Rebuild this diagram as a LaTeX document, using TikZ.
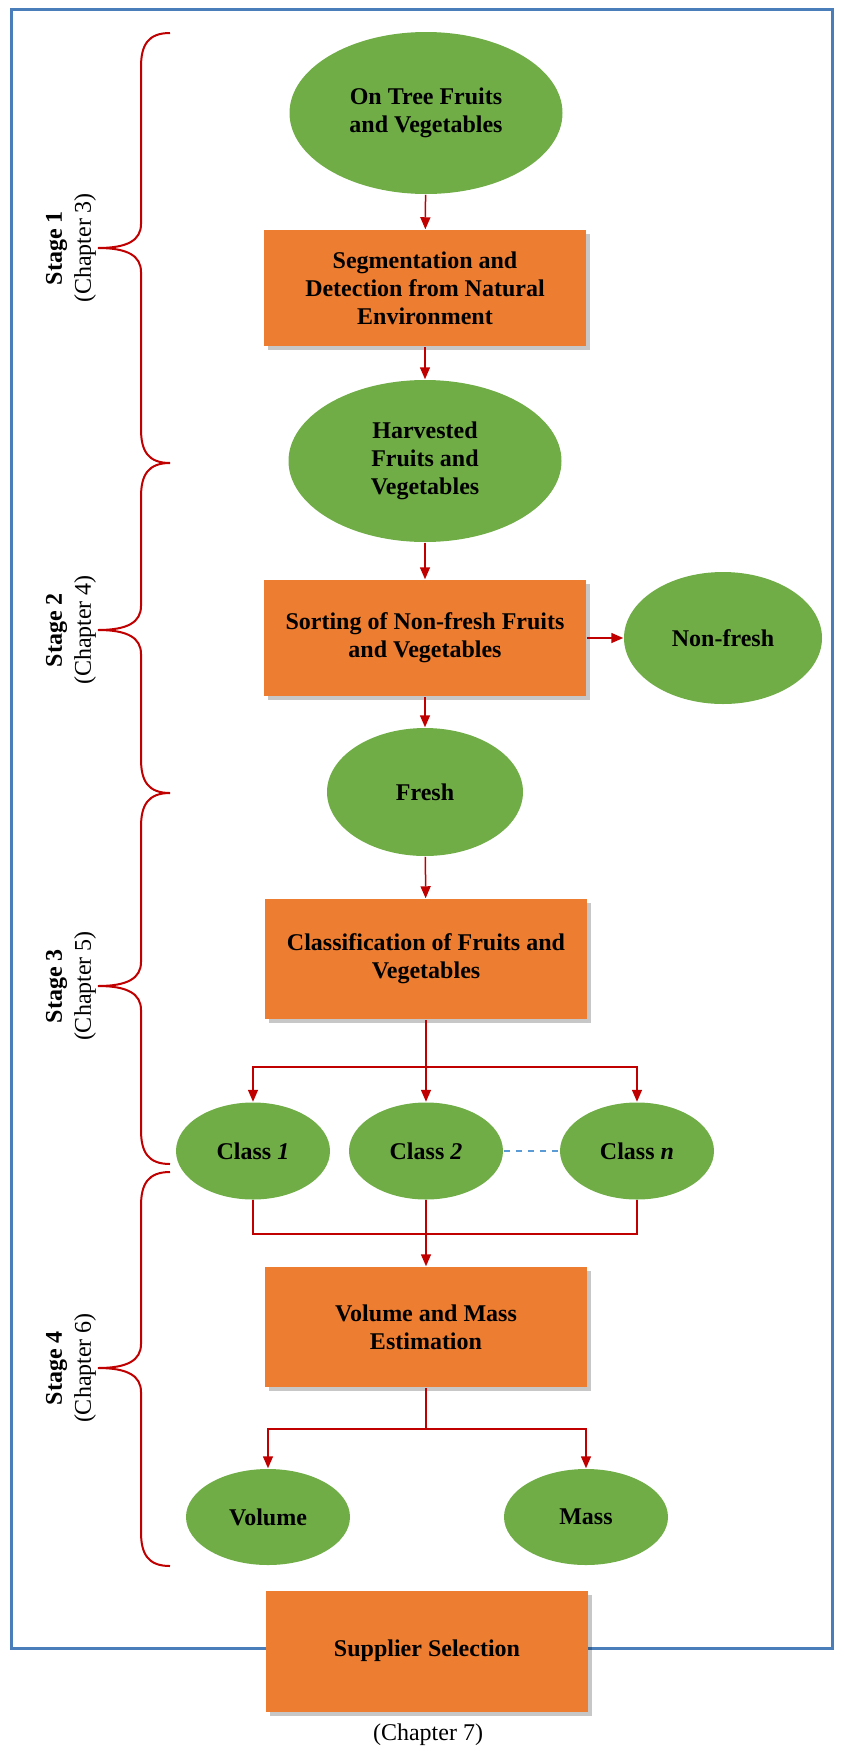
\documentclass[tikz,border=0pt]{standalone}
\usepackage{fontspec}
\setmainfont{Liberation Serif}
\usepackage{tikz}
\usetikzlibrary{positioning,shapes.geometric,arrows.meta,shadows}
\definecolor{leafgreen}{HTML}{70AD47}
\definecolor{boxorange}{HTML}{ED7D31}
\definecolor{frameblue}{HTML}{4A7EBB}
\definecolor{flowred}{HTML}{C00000}
\definecolor{dashblue}{HTML}{5B9BD5}
\def\boxwidth{161pt}

\begin{document}
\begin{tikzpicture}[x=0.5pt, y=-0.5pt, >={Triangle[length=6pt,width=5pt]}, line width=0.75pt]
        \tikzstyle{every node}=[font=\bfseries\fontsize{12}{14}\selectfont, align=center, inner sep=0pt];
        \tikzstyle{blob}=[ellipse, fill=leafgreen];
        \tikzstyle{big blob}=[blob, minimum width=136.5pt, minimum height=81pt];
        \tikzstyle{small blob}=[blob, minimum width=82pt, minimum height=48pt];
        \tikzstyle{task}=[rectangle, fill=boxorange, minimum width=\boxwidth, minimum height=58pt,
            drop shadow={shadow xshift=2pt, shadow yshift=-2pt, opacity=0.22, fill=black}];
        \tikzstyle{flow}=[->, draw=flowred];
        \tikzstyle{stagebrace}=[draw=flowred, line width=1pt];
        \tikzstyle{stagelabel}=[rotate=90, font=\mdseries\fontsize{12}{14.5}\selectfont];

        \useasboundingbox (0,0) rectangle (844,1751);
        % outer frame
        \draw[frameblue, line width=1.5pt] (11,9) rectangle (832,1648);

        % stage braces and labels
        \foreach \ytop/\ytip/\ybot/\st/\ch in {33/248/463/1/3, 463/630/793/2/4, 793/986/1164/3/5, 1172/1368/1566/4/6} {
            \draw[stagebrace] (170,\ytop) .. controls (148,\ytop) and (141,\ytop+12) .. (141,\ytop+34)
                -- (141,\ytip-24) .. controls (141,\ytip-8) and (128,\ytip) .. (98,\ytip)
                .. controls (128,\ytip) and (141,\ytip+8) .. (141,\ytip+24)
                -- (141,\ybot-34) .. controls (141,\ybot-12) and (148,\ybot) .. (170,\ybot);
            \node[stagelabel] (stage-\st) at (71,\ytip) {{\bfseries Stage \st}\\(Chapter \ch)};
        }

        % stage 1 and 2 nodes
        \node[big blob] (tree) at (426,113) {On Tree Fruits\\and Vegetables};
        \node[task] (segment) at (425,288) {Segmentation and\\Detection from Natural\\Environment};
        \node[big blob] (harvest) at (425,461) {Harvested\\Fruits and\\Vegetables};
        \node[task] (sorting) at (425,638) {Sorting of Non-fresh Fruits\\and Vegetables};
        \node[blob, minimum width=99pt, minimum height=66pt] (nonfresh) at (723,638) {Non-fresh};
        \node[blob, minimum width=98pt, minimum height=64pt] (fresh) at (425,792) {Fresh};
        % stage 3 nodes
        \node[task, minimum height=60pt] (classify) at (426,959) {Classification of Fruits and\\Vegetables};
        \foreach \name/\x/\k in {c1/253/1, c2/426/2, cn/637/n}
            \node[blob, minimum width=77pt, minimum height=48.5pt] (\name) at (\x,1151) {Class \textit{\k}};
        % stage 4 nodes
        \node[task, minimum height=60pt] (estimate) at (426,1327) {Volume and Mass\\Estimation};
        \node[small blob] (volume) at (268,1517) {Volume};
        \node[small blob] (mass) at (586,1517) {Mass};
        \node[task, minimum height=60.5pt] (supplier) at (427,1651) {Supplier Selection};
        \node[font=\mdseries\fontsize{12}{14}\selectfont] (chap7) at (428,1735) {(Chapter 7)};

        % connections
        \draw[flow] (tree) -- (segment);
        \draw[flow] (segment) -- (harvest);
        \draw[flow] (harvest) -- (sorting);
        \draw[flow] (sorting) -- (nonfresh);
        \draw[flow] (sorting) -- (fresh);
        \draw[flow] (fresh) -- (classify);
        \coordinate (split-a) at (426,1067);
        \draw[flowred] (classify) -- (split-a);
        \draw[flow] (split-a) -| (c1);
        \draw[flow] (split-a) -- (c2);
        \draw[flow] (split-a) -| (cn);
        \draw[dashed, dashblue] (c2) -- (cn);
        \coordinate (join-a) at (426,1234);
        \draw[flowred] (c1) |- (join-a) -| (cn);
        \draw[flow] (c2) -- (estimate);
        \coordinate (split-b) at (426,1429);
        \draw[flowred] (estimate) -- (split-b);
        \draw[flow] (split-b) -| (volume);
        \draw[flow] (split-b) -| (mass);
\end{tikzpicture}
\end{document}
